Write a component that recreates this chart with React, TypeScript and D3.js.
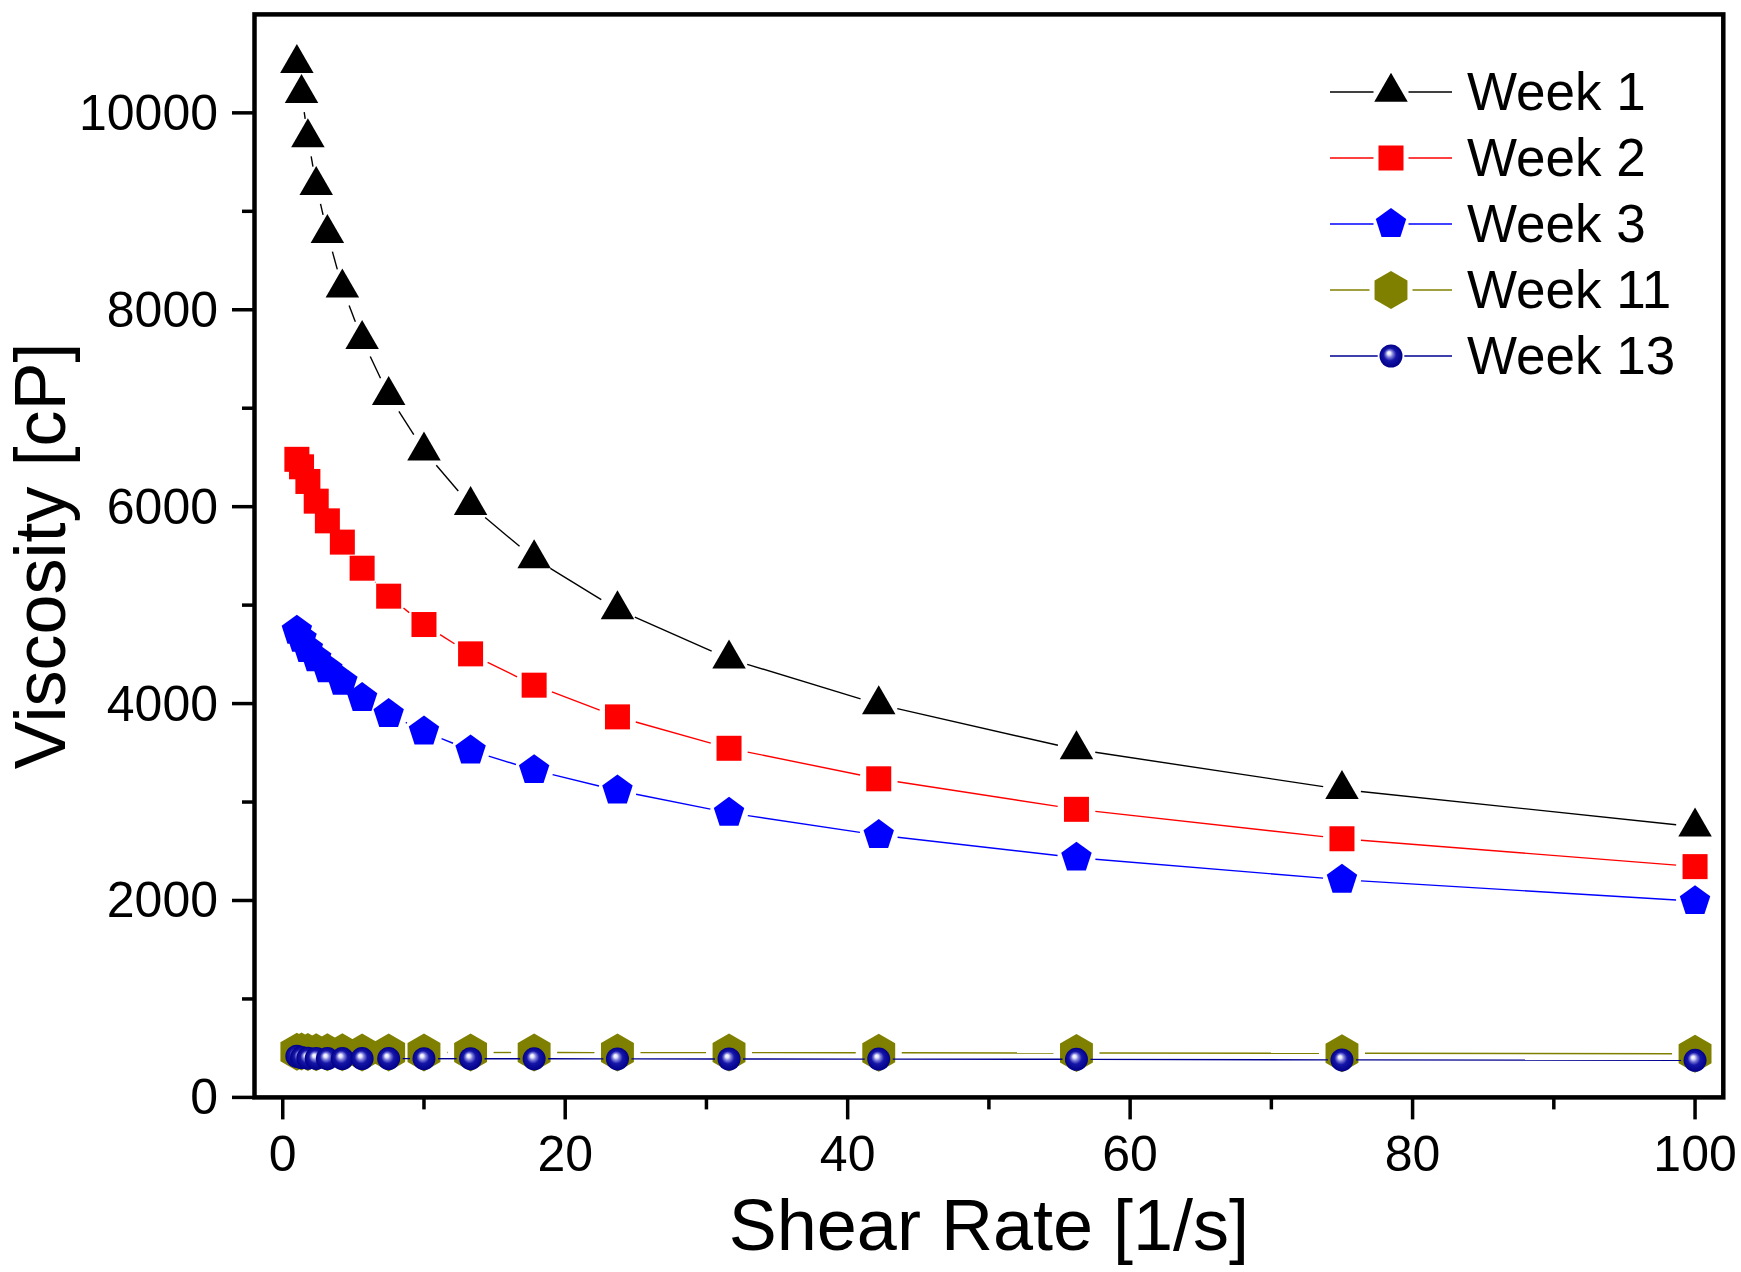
import React from "react";
import * as d3 from "d3";

const shearRate = [1, 1.33, 1.78, 2.37, 3.16, 4.22, 5.62, 7.5, 10, 13.3, 17.8, 23.7, 31.6, 42.2, 56.2, 75, 100];
const week1 = [10503, 10198, 9748, 9263, 8776, 8224, 7699, 7130, 6568, 6013, 5474, 4956, 4455, 3991, 3534, 3128, 2749];
const week2 = [6481, 6405, 6256, 6056, 5856, 5640, 5375, 5091, 4803, 4505, 4187, 3865, 3546, 3236, 2926, 2627, 2344];
const week3 = [4740, 4658, 4554, 4459, 4347, 4222, 4056, 3893, 3717, 3524, 3324, 3117, 2890, 2664, 2435, 2211, 1993];
const week11 = [463, 466, 461, 459, 458, 458, 457, 457, 456, 456, 456, 455, 455, 453, 451, 448, 443];
const week13 = [418, 405, 398, 396, 395, 395, 394, 394, 393, 393, 392, 391, 390, 389, 387, 381, 377];

const seriesNames = ["Week 1", "Week 2", "Week 3", "Week 11", "Week 13"];
const xTicks = [0, 20, 40, 60, 80, 100];
const xMinorTicks = [10, 30, 50, 70, 90];
const yTicks = [0, 2000, 4000, 6000, 8000, 10000];
const yMinorTicks = [1000, 3000, 5000, 7000, 9000];

const W = 1741;
const H = 1272;
const FONT = "'Liberation Sans', Arial, Helvetica, sans-serif";

const left = 254.5, right = 1723.3, top = 14.4, bottom = 1097.4;

type Kind = "triangle" | "square" | "pentagon" | "hexagon" | "sphere";

const styles: { kind: Kind; fill: string; line: string; gap: number; legendGap: number }[] = [
  { kind: "triangle", fill: "#000000", line: "#000000", gap: 19, legendGap: 17.5 },
  { kind: "square", fill: "#ff0000", line: "#ff0000", gap: 19, legendGap: 17.5 },
  { kind: "pentagon", fill: "#0000ff", line: "#0000ff", gap: 19, legendGap: 17.5 },
  { kind: "hexagon", fill: "#808000", line: "#808000", gap: 23, legendGap: 21.5 },
  { kind: "sphere", fill: "url(#sphereGrad)", line: "#000090", gap: 14, legendGap: 13.3 },
];

function polygon(n: number, R: number, startDeg: number): string {
  const pts: string[] = [];
  for (let k = 0; k < n; k++) {
    const a = ((startDeg + (360 / n) * k) * Math.PI) / 180;
    pts.push(`${(R * Math.cos(a)).toFixed(2)},${(R * Math.sin(a)).toFixed(2)}`);
  }
  return "M" + pts.join("L") + "Z";
}

function Marker({ kind, fill, x, y }: { kind: Kind; fill: string; x: number; y: number }) {
  const t = `translate(${x},${y})`;
  if (kind === "triangle") {
    const w = 33.5, h = 29;
    return <path transform={t} d={`M0,${-(2 * h) / 3}L${w / 2},${h / 3}L${-w / 2},${h / 3}Z`} fill={fill} />;
  }
  if (kind === "square") {
    const s = 25;
    return <rect transform={t} x={-s / 2} y={-s / 2} width={s} height={s} fill={fill} />;
  }
  if (kind === "pentagon") {
    return <path transform={t} d={polygon(5, 16, -90)} fill={fill} />;
  }
  if (kind === "hexagon") {
    return <path transform={t} d={polygon(6, 19, -90)} fill={fill} />;
  }
  return <circle transform={t} r={11.5} fill={fill} />;
}

export default function App() {
  const x = d3.scaleLinear().domain([-2, 102]).range([left, right]);
  const y = d3.scaleLinear().domain([0, 11000]).range([bottom, top]);
  const allSeries = [week1, week2, week3, week11, week13];

  const segments = (vals: number[], gap: number) => {
    const out: [number, number, number, number][] = [];
    for (let i = 0; i < vals.length - 1; i++) {
      const x1 = x(shearRate[i]), y1 = y(vals[i]);
      const x2 = x(shearRate[i + 1]), y2 = y(vals[i + 1]);
      const dx = x2 - x1, dy = y2 - y1;
      const len = Math.hypot(dx, dy);
      if (len <= 2 * gap) continue;
      const ux = dx / len, uy = dy / len;
      out.push([x1 + ux * gap, y1 + uy * gap, x2 - ux * gap, y2 - uy * gap]);
    }
    return out;
  };

  const legendX0 = 1330, legendX1 = 1452, legendMid = 1391, legendTextX = 1467;
  const legendRows = [92, 158, 224, 290, 356];

  return (
    <svg
      width={W}
      height={H}
      style={{ position: "absolute", left: 0, top: 0, background: "#fff" }}
      fontFamily={FONT}
    >
      <defs>
        <radialGradient id="sphereGrad" cx="0.5" cy="0.5" r="0.5" fx="0.4" fy="0.36">
          <stop offset="0%" stopColor="#ffffff" />
          <stop offset="14%" stopColor="#e8e8ff" />
          <stop offset="32%" stopColor="#7a7ad8" />
          <stop offset="55%" stopColor="#1515a8" />
          <stop offset="100%" stopColor="#000088" />
        </radialGradient>
      </defs>
      <rect x={0} y={0} width={W} height={H} fill="#ffffff" />

      {/* data */}
      {allSeries.map((vals, si) => {
        const st = styles[si];
        return (
          <g key={si}>
            {segments(vals, st.gap).map((s, i) => (
              <line key={i} x1={s[0]} y1={s[1]} x2={s[2]} y2={s[3]} stroke={st.line} strokeWidth={1.4} />
            ))}
            {vals.map((v, i) => (
              <Marker key={i} kind={st.kind} fill={st.fill} x={x(shearRate[i])} y={y(v)} />
            ))}
          </g>
        );
      })}

      {/* frame */}
      <rect x={left} y={top} width={right - left} height={bottom - top} fill="none" stroke="#000" strokeWidth={4.5} />

      {/* x ticks */}
      {xTicks.map((t) => (
        <g key={"xt" + t}>
          <line x1={x(t)} x2={x(t)} y1={bottom} y2={bottom + 22} stroke="#000" strokeWidth={3.5} />
          <text x={x(t)} y={1171} textAnchor="middle" fontSize={50}>
            {t}
          </text>
        </g>
      ))}
      {xMinorTicks.map((t) => (
        <line key={"xm" + t} x1={x(t)} x2={x(t)} y1={bottom} y2={bottom + 12} stroke="#000" strokeWidth={3.5} />
      ))}

      {/* y ticks */}
      {yTicks.map((t) => (
        <g key={"yt" + t}>
          <line x1={left - 22.5} x2={left} y1={y(t)} y2={y(t)} stroke="#000" strokeWidth={3.5} />
          <text x={218} y={y(t) + 17} textAnchor="end" fontSize={50}>
            {t}
          </text>
        </g>
      ))}
      {yMinorTicks.map((t) => (
        <line key={"ym" + t} x1={left - 12.5} x2={left} y1={y(t)} y2={y(t)} stroke="#000" strokeWidth={3.5} />
      ))}

      {/* axis titles */}
      <text x={(left + right) / 2} y={1250} textAnchor="middle" fontSize={72}>
        Shear Rate [1/s]
      </text>
      <text transform={`translate(65,${(top + bottom) / 2}) rotate(-90)`} textAnchor="middle" fontSize={72}>
        Viscosity [cP]
      </text>

      {/* legend */}
      {seriesNames.map((name, i) => {
        const st = styles[i];
        const ry = legendRows[i];
        return (
          <g key={"lg" + i}>
            <line x1={legendX0} x2={legendMid - st.legendGap} y1={ry} y2={ry} stroke={st.line} strokeWidth={1.4} />
            <line x1={legendMid + st.legendGap} x2={legendX1} y1={ry} y2={ry} stroke={st.line} strokeWidth={1.4} />
            <Marker kind={st.kind} fill={st.fill} x={legendMid} y={ry} />
            <text x={legendTextX} y={ry + 18} fontSize={53}>
              {name}
            </text>
          </g>
        );
      })}
    </svg>
  );
}
